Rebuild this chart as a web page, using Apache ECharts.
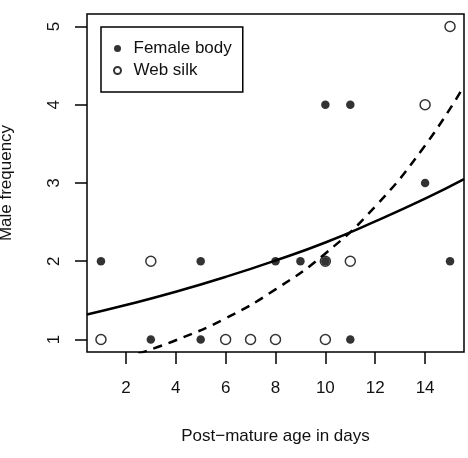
<!DOCTYPE html>
<html>
<head>
<meta charset="utf-8">
<script src="https://cdn.jsdelivr.net/npm/echarts@6/dist/echarts.min.js"></script>
<style>
html,body{margin:0;padding:0;background:#fff;}
#chart{width:468px;height:458px;}
</style>
</head>
<body>
<div id="chart"></div>
<script>
// points: [age, frequency]
var femaleBody = [[1,2],[3,1],[5,2],[5,1],[8,2],[9,2],[10,2],[10,4],[11,4],[11,1],[14,3],[15,2]];
var webSilk = [[1,1],[3,2],[6,1],[7,1],[8,1],[10,1],[10,2],[11,2],[14,4],[15,5]];
// fitted curves
var fitBody = [[0.44,1.32],[2,1.44],[4,1.61],[6,1.80],[8,2.01],[10,2.24],[12,2.51],[14,2.80],[15.56,3.05]];
var fitSilk = [[2.5,0.82],[4,0.99],[6,1.27],[8,1.64],[10,2.10],[12,2.70],[14,3.48],[15.56,4.24]];
var xTicks = [2,4,6,8,10,12,14];
var yTicks = [1,2,3,4,5];

var font = 'Liberation Sans, Arial, sans-serif';
var myChart = echarts.init(document.getElementById('chart'));
var option = {
	animation: false,
	backgroundColor: '#fff',
	textStyle: { fontFamily: font },
	grid: {
		left: 87, right: 4, top: 14, bottom: 106,
		outerBoundsMode: 'none',
		containLabel: false,
		show: true,
		borderColor: '#000',
		borderWidth: 1.5,
		backgroundColor: 'transparent'
	},
	legend: {
		orient: 'vertical',
		left: 101,
		top: 27,
		padding: [13, 11, 13, 12],
		itemWidth: 22,
		itemHeight: 7,
		itemGap: 5,
		borderColor: '#000',
		borderWidth: 1.5,
		textStyle: { fontSize: 17, color: '#111', fontFamily: font },
		data: ['Female body', 'Web silk']
	},
	xAxis: {
		type: 'value',
		min: 0.44,
		max: 15.56,
		name: 'Post\u2212mature age in days',
		nameLocation: 'middle',
		nameGap: 76,
		nameTextStyle: { fontSize: 17, color: '#111', fontFamily: font },
		axisLine: { show: false },
		splitLine: { show: false },
		axisTick: { show: true, inside: false, length: 12, customValues: xTicks, lineStyle: { color: '#000', width: 1.5 } },
		axisLabel: { customValues: xTicks, margin: 28, fontSize: 17, color: '#111', fontFamily: font }
	},
	yAxis: {
		type: 'value',
		min: 0.84,
		max: 5.16,
		name: 'Male frequency',
		nameLocation: 'middle',
		nameGap: 72,
		nameTextStyle: { fontSize: 17, color: '#111', fontFamily: font },
		axisLine: { show: false },
		splitLine: { show: false },
		axisTick: { show: true, inside: false, length: 12, customValues: yTicks, lineStyle: { color: '#000', width: 1.5 } },
		axisLabel: { customValues: yTicks, rotate: 90, margin: 24, fontSize: 17, color: '#111', fontFamily: font }
	},
	series: [
		{
			name: 'Female body',
			type: 'scatter',
			symbol: 'circle',
			symbolSize: 8.5,
			itemStyle: { color: '#000' },
			data: femaleBody,
			z: 3
		},
		{
			name: 'Web silk',
			type: 'scatter',
			symbol: 'circle',
			symbolSize: 10,
			itemStyle: { color: 'rgba(0,0,0,0)', borderColor: '#000', borderWidth: 1.5 },
			data: webSilk,
			z: 4
		},
		{
			name: 'fitBody',
			type: 'line',
			smooth: true,
			showSymbol: false,
			silent: true,
			clip: true,
			lineStyle: { color: '#000', width: 2.5 },
			data: fitBody
		},
		{
			name: 'fitSilk',
			type: 'line',
			smooth: true,
			showSymbol: false,
			silent: true,
			clip: true,
			lineStyle: { color: '#000', width: 2.5, type: [9, 7] },
			data: fitSilk
		}
	]
};
myChart.setOption(option);
</script>
</body>
</html>
